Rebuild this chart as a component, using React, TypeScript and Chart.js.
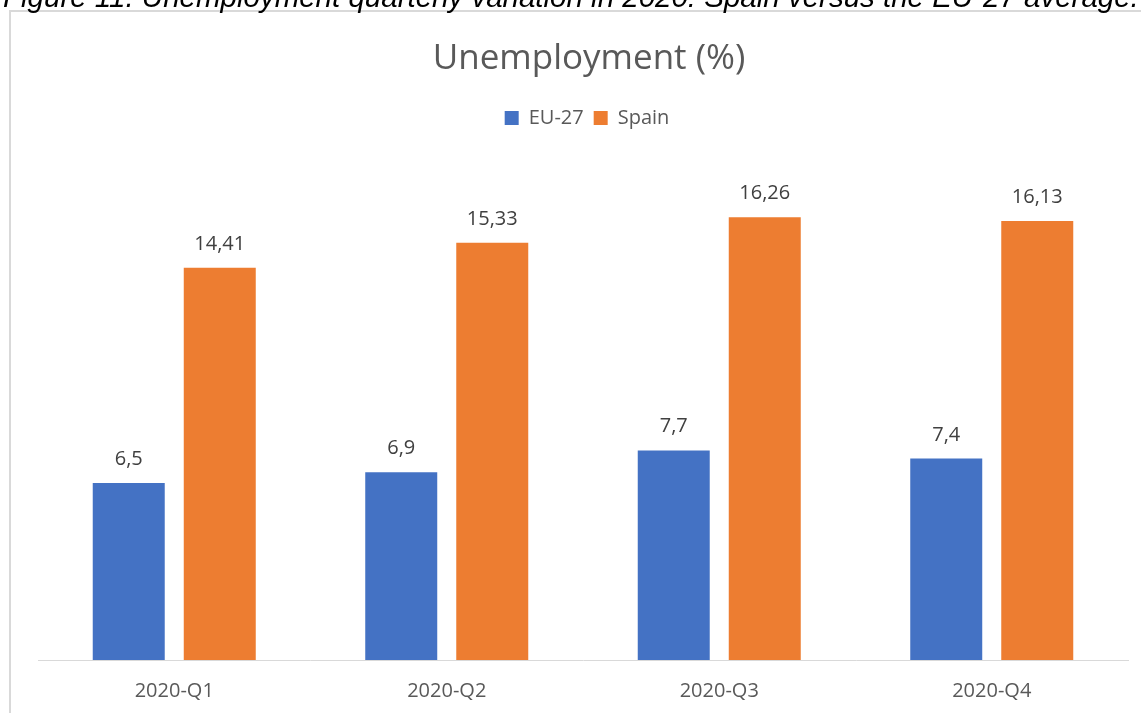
import React, { useEffect, useRef } from "react";
import { Chart, registerables } from "chart.js";

Chart.register(...registerables);

const categories = ["2020-Q1", "2020-Q2", "2020-Q3", "2020-Q4"];
const eu27 = [6.5, 6.9, 7.7, 7.4];
const spain = [14.41, 15.33, 16.26, 16.13];
const seriesNames = ["EU-27", "Spain"];
const chartTitle = "Unemployment (%)";
const caption =
  "Figure 11. Unemployment quarterly variation in 2020: Spain versus the EU-27 average.";

const FONT = "'Open Sans', 'DejaVu Sans', sans-serif";

const dataLabels = {
  id: "dataLabels",
  afterDatasetsDraw(chart: any) {
    const ctx = chart.ctx;
    ctx.save();
    ctx.font = `20px ${FONT}`;
    ctx.fillStyle = "#404040";
    ctx.textAlign = "center";
    ctx.textBaseline = "alphabetic";
    chart.data.datasets.forEach((ds: any, i: number) => {
      const meta = chart.getDatasetMeta(i);
      meta.data.forEach((bar: any, j: number) => {
        const txt = String(ds.data[j]).replace(".", ",");
        ctx.fillText(txt, bar.x, bar.y - 18);
      });
    });
    ctx.restore();
  },
};

const legendMargin = {
  id: "legendMargin",
  beforeInit(chart: any) {
    const legend = chart.legend;
    if (!legend) return;
    const orig = legend.fit;
    legend.fit = function () {
      orig.bind(legend)();
      this.height += 32;
    };
  },
  afterLayout(chart: any) {
    const t = chart.titleBlock;
    if (t) {
      t.left += 6;
      t.right += 6;
    }
    const l = chart.legend;
    if (l) {
      l.left += 4;
      l.right += 4;
    }
  },
};

export default function App() {
  const ref = useRef<HTMLCanvasElement>(null);
  useEffect(() => {
    if (!ref.current) return;
    const chart = new Chart(ref.current, {
      type: "bar",
      data: {
        labels: categories,
        datasets: [
          {
            label: seriesNames[0],
            data: eu27,
            backgroundColor: "#4472C4",
            borderWidth: 0,
            categoryPercentage: 0.668,
            barPercentage: 0.791,
          },
          {
            label: seriesNames[1],
            data: spain,
            backgroundColor: "#ED7D31",
            borderWidth: 0,
            categoryPercentage: 0.668,
            barPercentage: 0.791,
          },
        ],
      },
      options: {
        responsive: false,
        animation: false,
        layout: { padding: { left: 38, right: 52, top: 0, bottom: 11 } },
        plugins: {
          title: {
            display: true,
            text: chartTitle,
            color: "#595959",
            font: { family: FONT, size: 35, weight: "normal" },
            padding: { top: 38, bottom: 18 },
          },
          legend: {
            display: true,
            labels: {
              color: "#595959",
              font: { family: FONT, size: 20 },
              boxWidth: 14,
              boxHeight: 14,
              padding: 10,
            },
          },
          tooltip: { enabled: false },
        },
        scales: {
          x: {
            grid: { display: false, drawTicks: false },
            border: { display: true, color: "#d9d9d9", width: 1 },
            ticks: {
              color: "#595959",
              font: { family: FONT, size: 20 },
              padding: 19,
            },
          },
          y: {
            display: false,
            min: 0,
            max: 18,
          },
        },
      },
      plugins: [dataLabels, legendMargin],
    });
    return () => chart.destroy();
  }, []);

  return (
    <div
      style={{
        position: "fixed",
        left: 0,
        top: 0,
        width: 1141,
        height: 713,
        overflow: "hidden",
        background: "#fff",
      }}
    >
      <div
        style={{
          position: "absolute",
          left: 9,
          top: 10,
          width: 1200,
          height: 800,
          borderLeft: "2px solid #d9d9d9",
          borderTop: "2px solid #d9d9d9",
        }}
      />
      <canvas
        ref={ref}
        width={1180}
        height={733}
        style={{ position: "absolute", left: 0, top: 0 }}
      />
      <div
        style={{
          position: "absolute",
          left: 3,
          top: -18.5,
          whiteSpace: "nowrap",
          fontFamily: "'Liberation Sans', Arial, sans-serif",
          fontStyle: "italic",
          fontSize: 29.5,
          lineHeight: "29.5px",
          color: "#000",
        }}
      >
        {caption}
      </div>
    </div>
  );
}
